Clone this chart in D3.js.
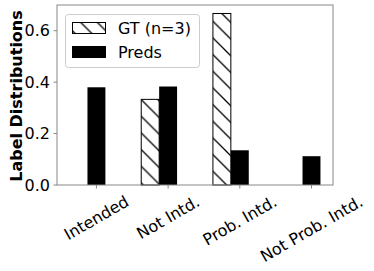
<!DOCTYPE html>
<html>
<head>
<meta charset="utf-8">
<script src="https://cdn.jsdelivr.net/npm/d3@7"></script>
<style>
    body { margin: 0; background: #fff; }
    svg { display: block; font-family: 'DejaVu Sans', sans-serif; }
</style>
</head>
<body>
<svg id="chart" width="374" height="271"></svg>
<script>
const categories = ['Intended', 'Not Intd.', 'Prob. Intd.', 'Not Prob. Intd.'];
const gtValues = [0, 0.333, 0.667, 0];
const predValues = [0.38, 0.383, 0.135, 0.112];
const yTicks = [0, 0.2, 0.4, 0.6];

const barW = 0.25;
const fs = 16;
const margin = { left: 57, right: 333, top: 5, bottom: 185 };

const svg = d3.select('#chart');

const x = d3.scaleLinear().domain([-0.55, 3.3]).range([margin.left, margin.right]);
const y = d3.scaleLinear().domain([0, 0.7]).range([margin.bottom, margin.top]);

// hatch for GT bars ('\\', 6 lines per inch at 100dpi)
const hs = 16.67;
const defs = svg.append('defs');
defs.append('pattern')
    .attr('id', 'hatch')
    .attr('patternUnits', 'userSpaceOnUse')
    .attr('x', 8.3)
    .attr('width', hs)
    .attr('height', hs)
    .call((p) => {
        p.append('rect').attr('width', hs).attr('height', hs).attr('fill', '#fff');
        p.append('path')
            .attr('d', `M${-hs},0 L${2 * hs},${3 * hs} M0,${-hs} L${2 * hs},${hs} M${-hs},${-hs} L${2 * hs},${2 * hs}`)
            .attr('stroke', '#000')
            .attr('stroke-width', 1.3);
    });

// bars
const bars = svg.append('g');
bars.selectAll('rect.gt')
    .data(gtValues)
    .enter()
    .append('rect')
    .attr('class', 'gt')
    .attr('x', (d, i) => x(i - 1.5 * barW))
    .attr('width', (d, i) => x(i - 0.5 * barW) - x(i - 1.5 * barW))
    .attr('y', (d) => y(d))
    .attr('height', (d) => y(0) - y(d))
    .attr('fill', 'url(#hatch)')
    .attr('stroke', '#000')
    .attr('stroke-width', 1);

bars.selectAll('rect.pred')
    .data(predValues)
    .enter()
    .append('rect')
    .attr('class', 'pred')
    .attr('x', (d, i) => x(i - 0.5 * barW))
    .attr('width', (d, i) => x(i + 0.5 * barW) - x(i - 0.5 * barW))
    .attr('y', (d) => y(d))
    .attr('height', (d) => y(0) - y(d))
    .attr('fill', '#000');

// frame
svg.append('rect')
    .attr('x', margin.left)
    .attr('y', margin.top)
    .attr('width', margin.right - margin.left)
    .attr('height', margin.bottom - margin.top)
    .attr('fill', 'none')
    .attr('stroke', '#888')
    .attr('stroke-width', 1);

// y ticks
const yAxis = svg.append('g');
yAxis.selectAll('line')
    .data(yTicks)
    .enter()
    .append('line')
    .attr('x1', margin.left - 3.5)
    .attr('x2', margin.left)
    .attr('y1', (d) => y(d))
    .attr('y2', (d) => y(d))
    .attr('stroke', '#888');
yAxis.selectAll('text')
    .data(yTicks)
    .enter()
    .append('text')
    .attr('x', margin.left - 7)
    .attr('y', (d) => y(d))
    .attr('dy', '0.36em')
    .attr('text-anchor', 'end')
    .style('font-size', fs + 'px')
    .text((d) => d3.format('.1f')(d));

// x ticks
const xAxis = svg.append('g');
xAxis.selectAll('line')
    .data(categories)
    .enter()
    .append('line')
    .attr('x1', (d, i) => x(i))
    .attr('x2', (d, i) => x(i))
    .attr('y1', margin.bottom)
    .attr('y2', margin.bottom + 3.5)
    .attr('stroke', '#888');

const boxH = fs * 1.164;
xAxis.selectAll('text')
    .data(categories)
    .enter()
    .append('text')
    .style('font-size', fs + 'px')
    .attr('text-anchor', 'middle')
    .attr('y', fs * 0.346)
    .text((d) => d)
    .attr('transform', function (d, i) {
        const w = this.getComputedTextLength();
        const h = w * 0.5 + boxH * 0.866;
        return `translate(${x(i)},${margin.bottom + 7 + h / 2}) rotate(-30)`;
    });

// y label
svg.append('text')
    .attr('transform', 'translate(22,96) rotate(-90)')
    .attr('text-anchor', 'middle')
    .style('font-size', fs + 'px')
    .style('font-weight', 'bold')
    .text('Label Distributions');

// legend
const legend = svg.append('g');
legend.append('rect')
    .attr('x', 65.5)
    .attr('y', 14.5)
    .attr('width', 134)
    .attr('height', 53)
    .attr('rx', 3)
    .attr('fill', '#fff')
    .attr('fill-opacity', 0.8)
    .attr('stroke', '#ccc');
const items = [
    { label: 'GT (n=3)', fill: 'url(#hatch)' },
    { label: 'Preds', fill: '#000' }
];
items.forEach((it, i) => {
    legend.append('rect')
        .attr('x', 72.5)
        .attr('y', 22.5 + i * 24)
        .attr('width', 33)
        .attr('height', 11)
        .attr('fill', it.fill)
        .attr('stroke', '#000');
    legend.append('text')
        .attr('x', 118)
        .attr('y', 28 + i * 24)
        .attr('dy', '0.36em')
        .style('font-size', fs + 'px')
        .text(it.label);
});
</script>
</body>
</html>
